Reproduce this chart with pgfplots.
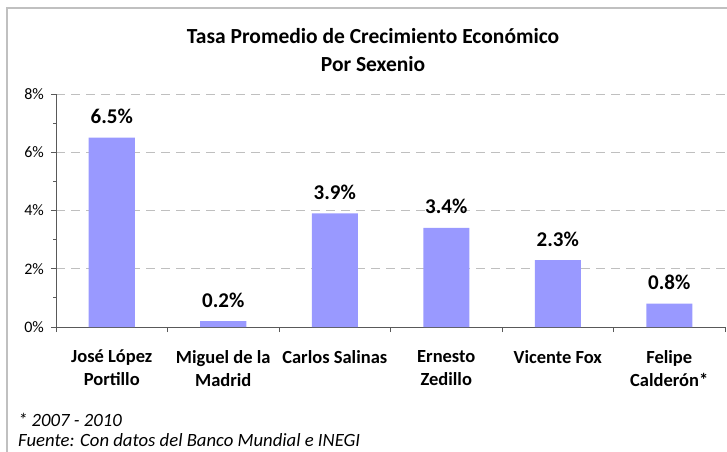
\documentclass[border=0pt]{standalone}
\usepackage{pgfplots}
\pgfplotsset{compat=1.18}
\usepackage{fontspec}
\setmainfont{Carlito}
\definecolor{barcol}{HTML}{9999FF}
\definecolor{axiscol}{HTML}{595959}
\definecolor{gridcol}{HTML}{BFBFBF}
\definecolor{framecol}{HTML}{C0C0C0}
\begin{document}
\begin{tikzpicture}
\useasboundingbox (-56pt,-124pt) rectangle (671pt,327pt);
\begin{axis}[
    scale only axis,
    width=669pt, height=233pt,
    xmin=-0.5, xmax=5.5,
    ymin=0, ymax=8,
    axis lines*=left,
    axis line style={axiscol, line width=0.8pt},
    tick align=outside,
    major tick length=5pt,
    minor tick length=3pt,
    tick style={axiscol, line width=0.8pt},
    xtick={-0.5,0.5,1.5,2.5,3.5,4.5,5.5},
    x tick label as interval,
    xticklabels={{José López\\Portillo},{Miguel de la\\Madrid},{Carlos Salinas},{Ernesto\\Zedillo},{Vicente Fox},{Felipe\\Calderón*}},
    xticklabel style={font=\fontsize{18.5}{23}\selectfont\bfseries, align=center, anchor=north, inner sep=0pt, yshift=-18pt},
    ytick={0,2,4,6,8},
    yticklabels={0\%,2\%,4\%,6\%,8\%},
    minor y tick num=1,
    yticklabel style={font=\fontsize{16}{19}\selectfont, inner sep=0pt, xshift=-7pt},
    ymajorgrids,
    major grid style={gridcol, dash pattern=on 8.5pt off 6.5pt, line width=0.8pt},
    /pgf/number format/assume math mode=true,
    title={Tasa Promedio de Crecimiento Económico\\Por Sexenio},
    title style={font=\fontsize{21.5}{28}\selectfont\bfseries, align=center, at={(0.474,1.163)}, anchor=center},
]
\addplot[ybar, bar width=0.4126, fill=barcol, draw=none,
    nodes near coords={\pgfmathprintnumber[fixed,fixed zerofill,precision=1]{\pgfplotspointmeta}\%},
    every node near coord/.append style={font=\fontsize{21}{25}\selectfont\bfseries, anchor=base, inner sep=0pt, yshift=14pt, text=black}]
    coordinates {(0,6.5) (1,0.2) (2,3.9) (3,3.4) (4,2.3) (5,0.8)};
\end{axis}
\draw[framecol, line width=1.5pt] (-49pt,-140pt) -- (-49pt,319pt) -- (690pt,319pt);
\node[anchor=west, inner sep=0pt, font=\fontsize{18.7}{23}\selectfont\itshape] at (-38pt,-93pt) {* 2007 - 2010};
\node[anchor=west, inner sep=0pt, font=\fontsize{18.7}{23}\selectfont\itshape] at (-38pt,-113pt) {Fuente: Con datos del Banco Mundial e INEGI};
\end{tikzpicture}
\end{document}
